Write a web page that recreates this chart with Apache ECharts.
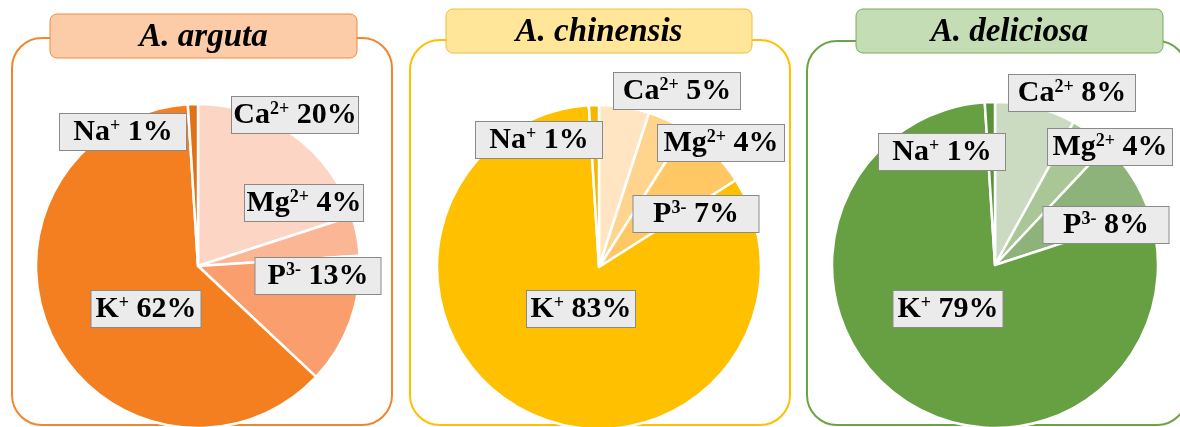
<!DOCTYPE html>
<html>
<head>
<meta charset="utf-8">
<script src="https://cdn.jsdelivr.net/npm/echarts@6/dist/echarts.min.js"></script>
<style>
  html, body { margin: 0; padding: 0; background: #ffffff; }
  #chart { width: 1180px; height: 427px; }
</style>
</head>
<body>
<div id="chart"></div>
<script>
// Ion composition (%) for three kiwifruit species
const species = ['A. arguta', 'A. chinensis', 'A. deliciosa'];
const ionNames = ['Ca', 'Mg', 'P', 'K', 'Na'];
const ionCharges = ['2+', '2+', '3-', '+', '+'];
const argutaShare = [20, 4, 13, 62, 1];
const chinensisShare = [5, 4, 7, 83, 1];
const deliciosaShare = [8, 4, 8, 79, 1];
const shares = [argutaShare, chinensisShare, deliciosaShare];

// Panel geometry and styling
const panels = [
  {
    center: [198, 266], radius: 162,
    frame: [12, 38, 380, 387], frameColor: '#F0862E',
    head: [50, 14, 307, 44], headFill: '#FCCBA8', headStroke: '#F08A3C',
    colors: ['#FCD5C4', '#FBB795', '#FA9E6D', '#F47F20', '#DD7217'],
    // label box centre x, centre y, box width
    labels: [[295, 115, 126], [304, 203, 118], [318, 276, 125], [146, 309, 109], [123, 132, 126]]
  },
  {
    center: [599, 267], radius: 162,
    frame: [410, 40, 380, 385], frameColor: '#FFC000',
    head: [446, 9, 306, 44], headFill: '#FFE699', headStroke: '#F2BE3A',
    colors: ['#FFE5C2', '#FFD48C', '#FFC864', '#FFC000', '#F4B600'],
    labels: [[677, 91, 126], [721, 143, 126], [696, 214, 125], [581, 309, 108], [539, 140, 126]]
  },
  {
    center: [995, 265], radius: 163,
    frame: [807, 41, 380, 384], frameColor: '#6AA444',
    head: [856, 9, 307, 44], headFill: '#C5DDB5', headStroke: '#78AE58',
    colors: ['#CBDBC2', '#A9C697', '#8DB37A', '#67A043', '#5A9236'],
    labels: [[1072, 93, 126], [1110, 147, 124], [1106, 225, 125], [948, 309, 109], [942, 152, 126]]
  }
];

const serif = '"Liberation Serif", "Times New Roman", serif';

const graphics = [];
panels.forEach((p, i) => {
  graphics.push({
    type: 'rect', z: 0,
    shape: { x: p.frame[0], y: p.frame[1], width: p.frame[2], height: p.frame[3], r: 30 },
    style: { fill: 'none', stroke: p.frameColor, lineWidth: 2 }
  });
  graphics.push({
    type: 'rect', z: 1,
    shape: { x: p.head[0], y: p.head[1], width: p.head[2], height: p.head[3], r: 7 },
    style: { fill: p.headFill, stroke: p.headStroke, lineWidth: 1 }
  });
  graphics.push({
    type: 'text', z: 2,
    x: p.head[0] + p.head[2] / 2, y: p.head[1] + p.head[3] / 2 + 1,
    style: {
      text: species[i], fill: '#000',
      font: 'italic bold 33px ' + serif,
      align: 'center', verticalAlign: 'middle'
    }
  });
});

const series = panels.map((p, i) => ({
  type: 'pie',
  center: p.center,
  radius: p.radius,
  startAngle: 90,
  clockwise: true,
  avoidLabelOverlap: false,
  animation: false,
  silent: true,
  z: 3,
  itemStyle: { borderColor: '#ffffff', borderWidth: 2.5 },
  labelLine: { show: false },
  data: ionNames.map((name, k) => ({
    name: name,
    value: shares[i][k],
    itemStyle: { color: p.colors[k] },
    label: { width: p.labels[k][2] }
  })),
  label: {
    show: true,
    position: 'outside',
    formatter: (d) => '{m|' + d.name + '}{s|' + ionCharges[d.dataIndex] + '}{m| ' + d.value + '%}',
    backgroundColor: '#EBEBEB',
    borderColor: '#8A8A8A',
    borderWidth: 1,
    padding: [3, 0, 2, 0],
    align: 'center',
    rich: {
      m: { fontFamily: serif, fontWeight: 'bold', fontSize: 30, lineHeight: 31, color: '#000' },
      s: { fontFamily: serif, fontWeight: 'bold', fontSize: 18, lineHeight: 24, verticalAlign: 'top', color: '#000' }
    }
  },
  labelLayout: (params) => {
    const b = p.labels[params.dataIndex];
    return { x: b[0], y: b[1], align: 'center', verticalAlign: 'middle' };
  }
}));

const chart = echarts.init(document.getElementById('chart'), null, { renderer: 'canvas' });
chart.setOption({
  backgroundColor: '#ffffff',
  animation: false,
  graphic: graphics,
  series: series
});
</script>
</body>
</html>
